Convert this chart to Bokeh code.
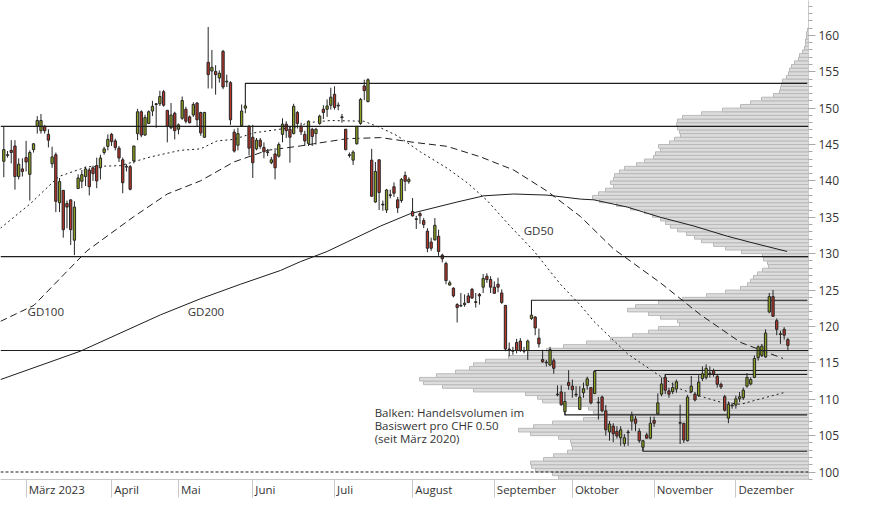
import numpy as np
from bokeh.plotting import figure
from bokeh.models import Range1d, FixedTicker, SingleIntervalTicker, Span, Label
from bokeh.embed import file_html
from bokeh.resources import INLINE

# ---------------- data ----------------
# daily candles, trading-day index 0..211 (late Feb 2023 .. Dec 2023)
open_ = [
    142.7, 143.5, 144.2, 144.8, 140.6, 141.65, 143.2, 140.9, 144.3, 147.5,
    146.9, 147.5, 146.4, 142.35, 143.6, 137.0, 138.7, 136.9, 137.4, 131.85,
    138.95, 139.95, 140.6, 141.5, 141.8, 142.1, 141.8, 143.9, 144.75, 146.4,
    145.5, 144.5, 142.9, 141.9, 141.95, 142.75, 146.5, 149.5, 146.3, 147.9,
    149.6, 150.5, 150.6, 152.25, 149.7, 147.3, 149.3, 147.1, 148.6, 149.85,
    148.8, 149.05, 150.7, 149.4, 146.0, 156.3, 155.1, 155.05, 154.15, 157.8,
    153.6, 153.5, 146.7, 144.9, 147.6, 150.0, 147.5, 146.0, 144.4, 145.6,
    144.6, 143.9, 142.5, 143.7, 143.4, 146.4, 147.8, 147.1, 146.5, 149.4,
    147.5, 146.4, 145.15, 147.1, 146.5, 147.9, 149.85, 149.85, 150.4, 151.9,
    150.3, 148.8, 147.1, 143.6, 142.85, 145.1, 147.9, 153.05, 150.9, 142.85,
    137.1, 142.9, 136.8, 136.0, 138.0, 139.2, 137.4, 137.3, 140.75, 139.9,
    135.8, 134.8, 135.5, 134.55, 133.1, 131.6, 131.9, 132.4, 129.8, 128.65,
    125.7, 125.25, 123.0, 122.8, 123.0, 124.2, 125.1, 123.4, 124.4, 125.4,
    126.9, 126.45, 125.4, 125.8, 124.6, 122.9, 116.9, 116.6, 117.8, 118.0,
    116.7, 116.7, 121.1, 121.3, 118.4, 115.45, 115.1, 114.7, 115.3, 110.7,
    111.0, 108.3, 112.3, 111.8, 110.7, 108.6, 110.9, 111.9, 111.6, 110.8,
    109.6, 110.3, 108.4, 105.5, 106.3, 105.6, 104.7, 103.9, 105.4, 107.0,
    107.3, 105.6, 103.4, 105.1, 104.65, 107.1, 108.0, 110.7, 113.0, 111.15,
    111.05, 111.4, 106.8, 106.7, 104.3, 111.05, 110.7, 110.5, 112.85, 113.0,
    113.5, 113.9, 113.15, 112.05, 110.35, 107.4, 109.1, 109.2, 110.05, 110.2,
    111.8, 112.1, 113.0, 115.7, 116.0, 115.8, 122.0, 124.1, 120.8, 118.9,
    119.6, 118.2,
]
high = [
    147.5, 144.1, 145.6, 145.6, 143.1, 143.1, 145.5, 144.2, 145.2, 148.9,
    149.2, 147.7, 147.1, 144.7, 143.9, 140.4, 138.7, 137.3, 137.4, 137.2,
    140.9, 141.5, 141.95, 141.8, 142.1, 143.2, 143.6, 144.7, 146.4, 146.6,
    145.8, 144.8, 143.2, 142.3, 142.2, 144.8, 149.9, 149.7, 149.1, 149.7,
    151.0, 150.7, 152.4, 152.5, 149.7, 150.7, 149.5, 147.9, 151.6, 150.2,
    149.0, 150.8, 150.8, 149.5, 149.5, 161.15, 158.0, 155.9, 155.2, 158.0,
    154.6, 153.7, 147.1, 147.3, 150.5, 150.5, 147.7, 147.7, 145.9, 145.9,
    145.3, 144.4, 143.3, 144.5, 145.3, 148.6, 148.2, 147.5, 150.6, 149.6,
    148.0, 146.9, 148.3, 147.3, 147.3, 149.1, 150.4, 151.2, 152.8, 153.0,
    150.8, 149.2, 147.1, 143.9, 144.2, 147.5, 151.4, 153.9, 154.1, 144.4,
    142.6, 142.9, 137.3, 138.9, 138.8, 139.8, 137.8, 140.4, 141.3, 140.5,
    137.65, 135.2, 135.7, 134.9, 133.5, 132.2, 134.9, 133.3, 130.0, 128.9,
    126.3, 125.4, 123.2, 124.6, 124.4, 124.6, 125.3, 124.6, 124.6, 127.2,
    127.3, 126.9, 126.2, 126.7, 125.1, 122.9, 117.8, 117.2, 118.3, 118.4,
    117.2, 118.2, 121.7, 121.4, 119.7, 116.8, 115.4, 117.2, 115.6, 111.9,
    111.9, 111.0, 114.0, 112.7, 111.8, 111.8, 112.3, 113.1, 111.6, 113.95,
    110.3, 110.5, 109.2, 107.0, 106.7, 106.3, 106.3, 105.2, 105.8, 108.3,
    107.7, 106.0, 104.4, 105.4, 107.6, 107.6, 110.8, 113.0, 113.4, 111.6,
    112.3, 112.7, 109.25, 106.7, 110.6, 113.2, 111.0, 113.3, 114.5, 114.8,
    114.5, 114.2, 113.4, 112.3, 110.6, 109.7, 109.5, 110.5, 111.0, 111.6,
    113.6, 113.0, 116.0, 117.4, 117.6, 119.6, 124.6, 125.0, 121.1, 119.4,
    119.9, 118.4,
]
low = [
    140.5, 143.2, 142.4, 138.8, 140.2, 140.6, 141.3, 137.3, 143.9, 146.5,
    146.5, 146.5, 144.6, 141.8, 135.7, 135.7, 132.2, 133.5, 131.2, 129.8,
    138.9, 139.0, 139.3, 138.0, 140.0, 139.0, 140.2, 143.6, 144.2, 144.8,
    144.2, 142.6, 138.3, 141.3, 138.7, 142.4, 145.6, 146.0, 146.2, 147.8,
    148.9, 147.3, 150.3, 150.2, 145.3, 147.1, 145.7, 146.4, 148.4, 147.9,
    147.9, 148.8, 147.5, 146.2, 145.9, 152.7, 152.7, 151.85, 153.5, 152.6,
    152.9, 147.7, 143.9, 144.2, 147.5, 149.3, 143.5, 140.4, 144.2, 144.4,
    143.1, 143.4, 142.3, 140.2, 143.2, 145.3, 145.9, 142.5, 146.4, 147.2,
    146.3, 144.8, 144.8, 144.8, 145.0, 147.7, 148.5, 148.8, 149.8, 149.8,
    149.7, 148.0, 144.2, 143.2, 142.2, 145.0, 147.7, 151.1, 150.8, 137.8,
    137.0, 136.0, 135.9, 135.6, 137.6, 137.8, 135.6, 137.0, 138.6, 139.6,
    135.1, 133.4, 134.1, 133.5, 130.2, 130.4, 131.8, 129.7, 128.8, 125.8,
    125.6, 124.0, 120.55, 122.7, 122.7, 123.2, 123.8, 122.6, 123.0, 124.6,
    126.0, 124.6, 124.5, 124.7, 123.1, 116.6, 115.9, 116.1, 116.3, 116.5,
    116.3, 115.4, 120.9, 118.8, 117.1, 115.0, 114.5, 114.6, 113.5, 110.4,
    109.1, 107.8, 111.3, 110.2, 110.3, 108.5, 110.2, 111.3, 109.3, 110.7,
    107.2, 108.2, 105.0, 104.3, 104.1, 104.6, 103.6, 103.5, 103.6, 105.7,
    105.6, 104.0, 102.85, 104.6, 104.5, 106.2, 107.9, 110.4, 110.7, 110.2,
    110.7, 110.9, 103.85, 104.0, 104.2, 110.9, 109.7, 110.3, 112.5, 112.7,
    113.0, 113.1, 111.6, 111.4, 108.3, 106.7, 108.7, 108.7, 109.6, 109.9,
    111.6, 111.9, 112.9, 115.3, 115.8, 115.7, 121.8, 121.3, 118.8, 117.6,
    118.2, 116.7,
]
close = [
    144.3, 143.6, 143.9, 140.6, 142.3, 141.3, 142.6, 143.9, 145.1, 148.3,
    148.3, 146.9, 145.6, 143.3, 137.2, 139.9, 133.3, 136.4, 133.3, 136.4,
    140.4, 140.85, 141.65, 139.2, 141.0, 140.0, 143.15, 144.4, 145.7, 145.4,
    144.6, 143.15, 139.75, 142.0, 138.85, 144.8, 149.5, 146.3, 148.7, 149.5,
    150.25, 150.6, 151.6, 150.4, 147.5, 149.05, 146.9, 147.7, 151.05, 148.2,
    148.0, 150.5, 148.4, 146.6, 149.4, 154.6, 155.6, 154.6, 154.8, 152.9,
    153.7, 148.4, 144.1, 146.5, 149.6, 150.3, 144.5, 142.5, 145.6, 144.75,
    144.0, 144.0, 142.9, 141.8, 145.0, 147.8, 146.9, 146.0, 150.25, 147.9,
    146.75, 145.5, 148.2, 146.1, 147.1, 148.9, 149.4, 150.3, 151.5, 150.1,
    150.4, 148.7, 144.3, 143.5, 143.95, 147.5, 151.2, 152.4, 153.9, 137.9,
    141.3, 138.4, 136.7, 138.75, 138.1, 138.3, 136.3, 140.2, 139.95, 140.2,
    135.2, 134.7, 135.2, 134.0, 130.75, 130.75, 133.9, 130.3, 129.3, 126.3,
    126.0, 124.2, 122.6, 122.9, 123.2, 123.3, 123.9, 123.3, 124.2, 126.6,
    126.45, 125.4, 124.55, 125.4, 123.3, 116.9, 116.8, 116.7, 116.7, 116.7,
    116.6, 118.0, 121.55, 119.8, 117.6, 115.15, 115.0, 116.8, 114.25, 110.6,
    109.25, 109.7, 111.9, 111.3, 110.6, 110.3, 111.45, 112.8, 109.5, 113.8,
    109.5, 108.4, 105.8, 106.6, 105.25, 104.95, 105.8, 104.7, 105.5, 107.8,
    106.7, 104.3, 104.3, 104.65, 106.7, 106.7, 109.5, 112.1, 111.25, 110.7,
    111.6, 112.4, 106.7, 104.4, 110.3, 111.8, 109.9, 112.35, 113.5, 114.25,
    113.6, 113.45, 112.05, 111.7, 108.5, 109.3, 109.2, 110.05, 110.35, 111.25,
    113.0, 112.7, 115.6, 117.2, 117.3, 119.1, 124.1, 121.4, 119.6, 119.0,
    118.8, 117.4,
]

# month separators (index of first trading day) and labels
month_start = [6, 29, 47, 67, 89, 110, 132, 153, 175, 197]
month_names = ["März 2023", "April", "Mai", "Juni", "Juli", "August",
               "September", "Oktober", "November", "Dezember"]

# moving averages (trading-day index, price)
gd50_x = [-0.9, 7.2, 14.8, 22.4, 31.4, 39.5, 47.5, 52.9, 57.4, 61.9, 67.3, 79.8,
          81.6, 87.9, 96.9, 101.4, 105.9, 112.1, 119.3, 124.7, 130.1, 135.5,
          142.6, 149.8, 155.2, 158.8, 167.8, 176.7, 182.1, 187.5, 192.9, 198.3,
          203.6, 209.9]
gd50_y = [133.5, 136.9, 140.6, 141.95, 142.1, 143.3, 144.2, 144.4, 145.5, 145.7,
          146.6, 147.5, 148.0, 148.3, 148.2, 147.3, 146.2, 144.0, 141.75, 139.75,
          137.3, 134.2, 130.4, 125.8, 122.9, 120.7, 116.25, 113.15, 111.4, 110.4,
          109.6, 109.3, 110.05, 110.9]
gd100_x = [-0.9, 8.1, 16.1, 22.4, 35.0, 44.0, 52.9, 61.9, 70.9, 79.8, 83.4, 92.4,
           101.4, 110.3, 119.3, 128.3, 137.2, 146.2, 155.2, 164.1, 176.7, 187.5,
           198.3, 209.7]
gd100_y = [120.7, 122.9, 127.1, 130.4, 135.1, 138.2, 140.0, 142.6, 144.2, 144.8,
           145.1, 145.8, 145.95, 145.3, 144.75, 143.3, 141.5, 138.6, 135.1, 130.65,
           126.0, 121.6, 117.8, 115.6]
gd200_x = [-0.9, 20.6, 42.2, 52.9, 63.7, 74.5, 79.8, 87.0, 101.4, 109.4, 122.0,
           129.2, 137.2, 146.2, 155.2, 158.8, 167.8, 176.7, 185.7, 194.7, 201.8,
           210.8]
gd200_y = [112.7, 116.6, 121.6, 123.8, 125.8, 127.7, 128.9, 130.3, 133.8, 135.5,
           137.1, 137.95, 138.2, 138.05, 137.5, 137.4, 136.4, 135.0, 133.8, 132.4,
           131.45, 130.3]

# horizontal support / resistance lines
full_levels = [147.5, 129.6, 116.7]
dashed_level = 100.0
res_start = [65, 142, 159, 178, 151, 172]
res_anchor = [150.3, 121.55, 113.8, 113.0, 108.3, 103.4]
res_level = [153.4, 123.6, 113.95, 113.4, 107.85, 102.85]

# volume profile: traded volume per CHF 0.50 bin, from 99.0 upward
vp_first_bin = 99.0
vp_bin = 0.5
vp_volume = [
    250, 256, 273, 277, 278, 265, 255, 241, 236, 237,
    238, 250, 278, 290, 275, 256, 225, 210, 215, 220,
    245, 266, 271, 283, 335, 366, 385, 389, 372, 353,
    339, 335, 323, 300, 281, 262, 245, 222, 198, 176,
    160, 150, 129, 131, 148, 160, 181, 173, 150, 126,
    102, 83, 68, 61, 58, 55, 51, 46, 40, 41,
    45, 46, 67, 83, 95, 107, 114, 122, 131, 138,
    143, 148, 156, 164, 178, 192, 209, 216, 210, 203,
    195, 198, 195, 194, 189, 184, 172, 164, 155, 153,
    148, 150, 139, 134, 128, 129, 131, 132, 131, 126,
    107, 86, 68, 58, 47, 35, 29, 28, 27, 26,
    22, 20, 19, 17, 14, 10, 9, 6, 4, 3,
    3, 2, 2, 1,
]

# text annotations
ma_labels = ["GD100", "GD200", "GD50"]
ma_label_x = [6.4, 49.5, 139.9]
ma_label_y = [122.1, 122.0, 133.2]
note_lines = ["Balken: Handelsvolumen im", "Basiswert pro CHF 0.50", "(seit März 2020)"]
note_x = 99.8
note_y = [108.15, 106.4, 104.6]

# ---------------- figure ----------------
X0, X1 = -0.89, 216.55
X_END = 216.2
Y0, Y1 = 98.97, 164.79
FONT = "Open Sans"
INK = "#1e1e1e"
TXT = "#333333"
GREEN = "#8c9f1e"
RED = "#b5352a"

p = figure(width=858, height=499, output_backend="svg", toolbar_location=None,
           x_range=Range1d(X0, X1), y_range=Range1d(Y0, Y1),
           y_axis_location="right",
           min_border_left=0, min_border_top=0, min_border_right=50, min_border_bottom=18)
p.outline_line_color = None
p.xgrid.visible = False
p.ygrid.visible = False
p.background_fill_color = "white"
p.border_fill_color = "white"

# volume profile on its own reversed x range (pixels from the right edge)
p.extra_x_ranges = {"vol": Range1d(start=808, end=0)}
vp_centers = vp_first_bin + vp_bin * (np.arange(len(vp_volume)) + 0.5)
p.hbar(y=vp_centers, height=vp_bin, left=0, right=vp_volume, x_range_name="vol",
       fill_color="#dcdcdc", line_color="#b9b9b9", line_width=1)

# horizontal lines
for lv in full_levels:
    p.add_layout(Span(location=lv, dimension="width", line_color=INK, line_width=1.1))
p.add_layout(Span(location=dashed_level, dimension="width", line_color=INK,
                  line_width=1.1, line_dash="3 2"))
xs = [[s, s, X_END] for s in res_start]
ys = [[a, lv, lv] for a, lv in zip(res_anchor, res_level)]
p.multi_line(xs, ys, line_color=INK, line_width=1.1)

# moving averages
p.line(gd200_x, gd200_y, line_color=INK, line_width=1)
p.line(gd100_x, gd100_y, line_color=INK, line_width=1, line_dash="7 4")
p.line(gd50_x, gd50_y, line_color=INK, line_width=1, line_dash="2 3")

# candles
o = np.array(open_)
h = np.array(high)
l = np.array(low)
c = np.array(close)
idx = np.arange(len(o))
p.segment(x0=idx, y0=l, x1=idx, y1=h, line_color="#262626", line_width=1)
up = c >= o
p.vbar(x=idx[up], width=0.62, top=c[up], bottom=o[up],
       fill_color=GREEN, line_color="#262626", line_width=1)
p.vbar(x=idx[~up], width=0.62, top=o[~up], bottom=c[~up],
       fill_color=RED, line_color="#262626", line_width=1)

# labels
for t, x, y in zip(ma_labels, ma_label_x, ma_label_y):
    p.add_layout(Label(x=x, y=y, text=t, text_font=FONT, text_font_size="11.5px",
                       text_color=TXT, text_baseline="middle"))
for t, y in zip(note_lines, note_y):
    p.add_layout(Label(x=note_x, y=y, text=t, text_font=FONT, text_font_size="11.5px",
                       text_color=TXT, text_baseline="middle"))

# right price axis
yax = p.yaxis[0]
yax.ticker = SingleIntervalTicker(interval=5, num_minor_ticks=5)
yax.axis_line_color = "#c8c8c8"
yax.major_tick_line_color = "#a8a8a8"
yax.major_tick_out = 7
yax.major_tick_in = 0
yax.minor_tick_line_color = "#a8a8a8"
yax.minor_tick_out = 4
yax.minor_tick_in = 0
yax.major_label_text_font = FONT
yax.major_label_text_font_size = "12px"
yax.major_label_text_color = TXT
yax.major_label_standoff = 3

# bottom month axis: separators as minor ticks, labels right of them
CW = {"M": .907, "ä": .556, "r": .408, "z": .468, " ": .26, "2": .572, "0": .572,
      "3": .572, "A": .633, "p": .613, "i": .258, "l": .258, "a": .556, "J": .27,
      "u": .615, "n": .615, "g": .55, "s": .479, "t": .356, "S": .549, "e": .561,
      "m": .929, "b": .613, "O": .786, "k": .525, "o": .601, "N": .764, "v": .5,
      "D": .739}
PX_PER_DAY = 808 / (X1 - X0)
label_size = 11.5
centers = []
for s, name in zip(month_start, month_names):
    w = sum(CW.get(ch, .56) for ch in name) * label_size
    centers.append(round(s + (2.5 + w / 2) / PX_PER_DAY, 3))
xax = p.xaxis[0]
xax.ticker = FixedTicker(ticks=centers, minor_ticks=month_start)
xax.major_label_overrides = {cx: n for cx, n in zip(centers, month_names)}
xax.major_tick_line_color = None
xax.major_tick_out = 0
xax.major_tick_in = 0
xax.minor_tick_out = 18
xax.minor_tick_in = 0
xax.minor_tick_line_color = "#c8c8c8"
xax.axis_line_color = "#c8c8c8"
xax.major_label_standoff = -16
xax.major_label_text_font = FONT
xax.major_label_text_font_size = "11.5px"
xax.major_label_text_color = TXT

open("out.html", "w").write(file_html(p, INLINE))
